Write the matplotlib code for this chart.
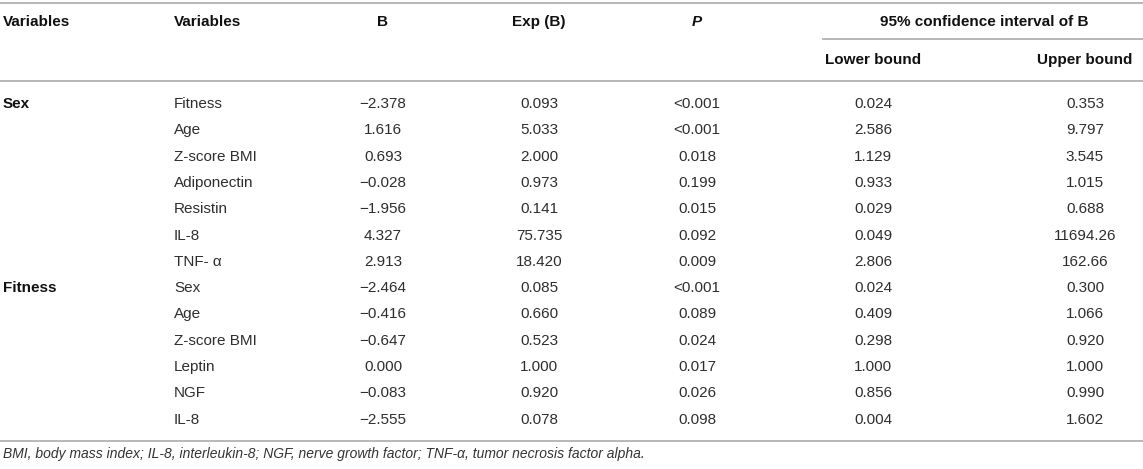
import matplotlib
matplotlib.use('Agg')
import matplotlib.pyplot as plt

plt.rcParams['font.family'] = ['Liberation Sans', 'DejaVu Sans']

groups = ['Sex', 'Fitness']
predictors = [
    ['Fitness', 'Age', 'Z-score BMI', 'Adiponectin', 'Resistin', 'IL-8', 'TNF- α'],
    ['Sex', 'Age', 'Z-score BMI', 'Leptin', 'NGF', 'IL-8'],
]
b_vals = ['−2.378', '1.616', '0.693', '−0.028', '−1.956', '4.327', '2.913',
          '−2.464', '−0.416', '−0.647', '0.000', '−0.083', '−2.555']
exp_b = ['0.093', '5.033', '2.000', '0.973', '0.141', '75.735', '18.420',
         '0.085', '0.660', '0.523', '1.000', '0.920', '0.078']
p_vals = ['<0.001', '<0.001', '0.018', '0.199', '0.015', '0.092', '0.009',
          '<0.001', '0.089', '0.024', '0.017', '0.026', '0.098']
lower = ['0.024', '2.586', '1.129', '0.933', '0.029', '0.049', '2.806',
         '0.024', '0.409', '0.298', '1.000', '0.856', '0.004']
upper = ['0.353', '9.797', '3.545', '1.015', '0.688', '11694.26', '162.66',
         '0.300', '1.066', '0.920', '1.000', '0.990', '1.602']
footnote = ('BMI, body mass index; IL-8, interleukin-8; NGF, nerve growth factor; '
            'TNF-α, tumor necrosis factor alpha.')

W, H = 1143, 469
fig = plt.figure(figsize=(W / 100, H / 100), dpi=100)
ax = fig.add_axes([0, 0, 1, 1])
ax.set_xlim(0, W)
ax.set_ylim(H, 0)
ax.axis('off')

fs = 11
hdr = dict(fontsize=fs, fontweight='bold', color='#111111', va='center')
cell = dict(fontsize=fs, color='#2e2e2e', va='center')
line_c = '#b8b8b8'

# rules
ax.plot([0, W], [3, 3], color=line_c, lw=1.4)
ax.plot([0, W], [81, 81], color=line_c, lw=1.4)
ax.plot([823, W], [39, 39], color=line_c, lw=1.4)
ax.plot([0, W], [441, 441], color=line_c, lw=1.4)

# column positions
x_var1, x_var2 = 3, 174
x_b, x_exp, x_p, x_lo, x_up = 383, 539, 697, 873, 1085

# header
ax.text(x_var1, 22, 'Variables', ha='left', **hdr)
ax.text(x_var2, 22, 'Variables', ha='left', **hdr)
ax.text(x_b, 22, 'B', ha='center', **hdr)
ax.text(x_exp, 22, 'Exp (B)', ha='center', **hdr)
ax.text(x_p, 22, 'P', ha='center', style='italic', **hdr)
ax.text(984, 22, '95% confidence interval of B', ha='center', **hdr)
ax.text(x_lo, 60, 'Lower bound', ha='center', **hdr)
ax.text(x_up, 60, 'Upper bound', ha='center', **hdr)

# body
y0, dy = 104, 26.3
row = 0
for g, preds in zip(groups, predictors):
    ax.text(x_var1, y0 + row * dy, g, ha='left', **hdr)
    for p in preds:
        y = y0 + row * dy
        ax.text(x_var2, y, p, ha='left', **cell)
        ax.text(x_b, y, b_vals[row], ha='center', **cell)
        ax.text(x_exp, y, exp_b[row], ha='center', **cell)
        ax.text(x_p, y, p_vals[row], ha='center', **cell)
        ax.text(x_lo, y, lower[row], ha='center', **cell)
        ax.text(x_up, y, upper[row], ha='center', **cell)
        row += 1

ax.text(3, 454, footnote, ha='left', va='center', fontsize=10,
        style='italic', color='#333333')

fig.savefig('out.png', dpi=100)
